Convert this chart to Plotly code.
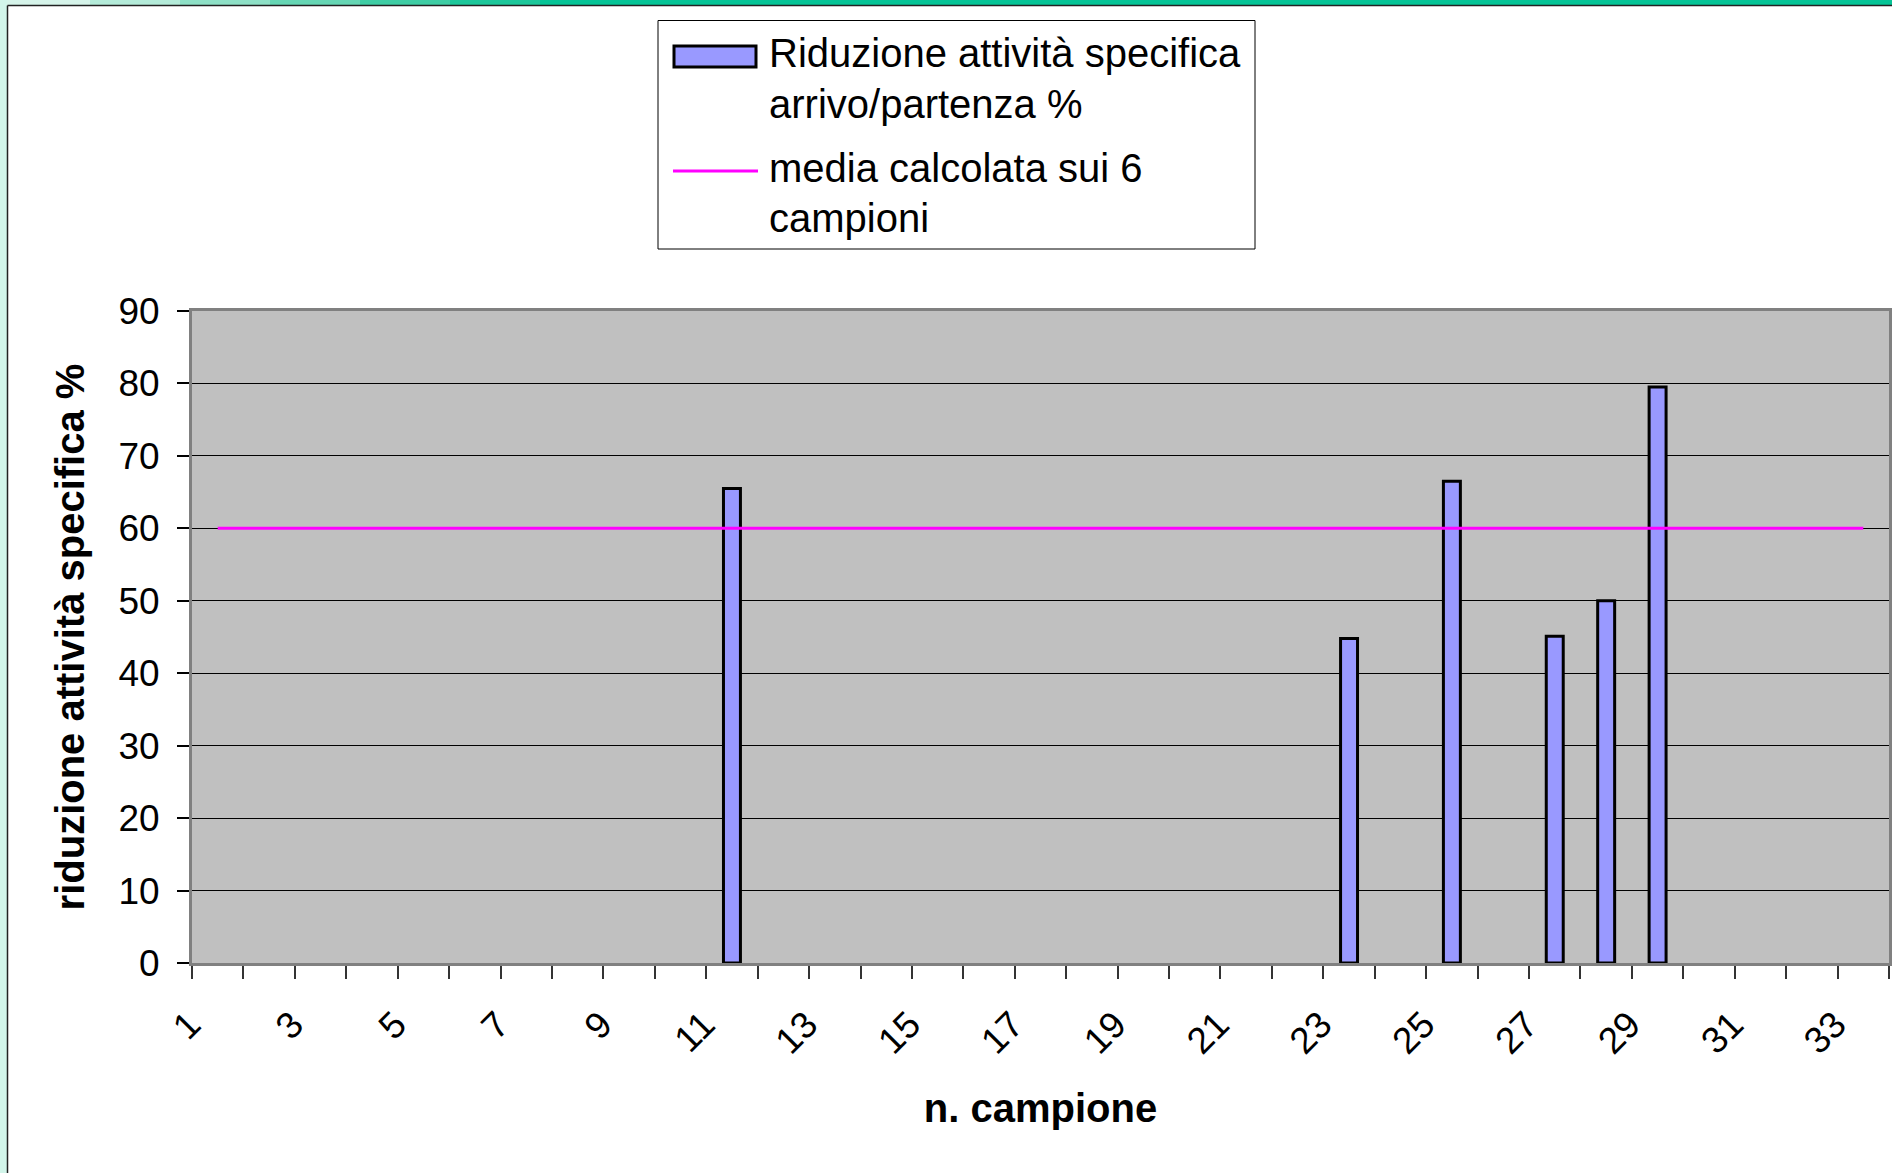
import plotly.graph_objects as go

# campioni con riduzione misurata
campioni = [11, 23, 25, 27, 28, 29]
riduzione = [65.5, 44.8, 66.5, 45.1, 50.0, 79.5]

# media calcolata sui 6 campioni (linea dal campione 1 al 33)
media_x = [1, 33]
media_y = [60, 60]

x_ticks = [1, 3, 5, 7, 9, 11, 13, 15, 17, 19, 21, 23, 25, 27, 29, 31, 33]
y_ticks = [0, 10, 20, 30, 40, 50, 60, 70, 80, 90]

W, H = 1892, 1173
L, R, T, B = 192, 3, 311, 210
FONT = "Liberation Sans, Arial, sans-serif"


def px(x):
    return (x - L) / (W - L - R)


def py(y):
    return (H - B - y) / (H - T - B)


fig = go.Figure()

fig.add_trace(go.Bar(
    x=campioni,
    y=riduzione,
    width=0.33,
    marker=dict(color="#9999FF", line=dict(color="black", width=3)),
    name="Riduzione attività specifica arrivo/partenza %",
    showlegend=False,
))

fig.add_trace(go.Scatter(
    x=media_x,
    y=media_y,
    mode="lines",
    line=dict(color="#FF00FF", width=3),
    name="media calcolata sui 6 campioni",
    showlegend=False,
))

shapes = []
annotations = []

# cornice della finestra (striscia verde in alto, striscia a sinistra)
grad = ["#D6F4EA", "#B4EBD9", "#8EE0C6", "#66D6B4", "#3ECDA4", "#1CC79A", "#05C496"]
seg = 90
for i, c in enumerate(grad):
    x1 = W if i == len(grad) - 1 else (i + 1) * seg
    shapes.append(dict(type="rect", xref="paper", yref="paper",
                       x0=px(i * seg), x1=px(x1), y0=py(5), y1=py(0),
                       fillcolor=c, line=dict(width=0), layer="above"))
shapes.append(dict(type="rect", xref="paper", yref="paper",
                   x0=px(0), x1=px(7), y0=py(H), y1=py(0),
                   fillcolor="#D2F5EA", line=dict(width=0), layer="above"))
shapes.append(dict(type="line", xref="paper", yref="paper",
                   x0=px(7.5), x1=px(7.5), y0=py(H), y1=py(5.5),
                   line=dict(color="#222222", width=1.5), layer="above"))
shapes.append(dict(type="line", xref="paper", yref="paper",
                   x0=px(7.5), x1=px(W), y0=py(5.5), y1=py(5.5),
                   line=dict(color="#222222", width=1.5), layer="above"))

# legenda
shapes.append(dict(type="rect", xref="paper", yref="paper",
                   x0=px(658), x1=px(1255), y0=py(249), y1=py(20.5),
                   fillcolor="white", line=dict(color="black", width=1)))
shapes.append(dict(type="rect", xref="paper", yref="paper",
                   x0=px(674), x1=px(756), y0=py(67), y1=py(46),
                   fillcolor="#9999FF", line=dict(color="black", width=3)))
shapes.append(dict(type="line", xref="paper", yref="paper",
                   x0=px(673), x1=px(758), y0=py(171), y1=py(171),
                   line=dict(color="#FF00FF", width=3)))

legend_lines = [
    ("Riduzione attività specifica", 53),
    ("arrivo/partenza %", 104),
    ("media calcolata sui 6", 168),
    ("campioni", 218),
]
for text, yc in legend_lines:
    annotations.append(dict(text=text, xref="paper", yref="paper",
                            x=px(767), y=py(yc), xanchor="left", yanchor="middle",
                            showarrow=False, font=dict(family=FONT, size=40, color="black")))

fig.update_layout(
    width=W,
    height=H,
    margin=dict(l=L, r=R, t=T, b=B, autoexpand=False),
    paper_bgcolor="white",
    plot_bgcolor="#C0C0C0",
    showlegend=False,
    shapes=shapes,
    annotations=annotations,
    font=dict(family=FONT, color="black"),
)

fig.update_xaxes(
    range=[0.5, 33.5],
    tickmode="array",
    tickvals=x_ticks,
    ticktext=[str(v) for v in x_ticks],
    tickangle=-45,
    ticks="",
    ticklabelstandoff=22,
    ticklabelshift=-28,
    tickfont=dict(family=FONT, size=37, color="black"),
    minor=dict(tick0=0.5, dtick=1, ticks="outside", ticklen=13,
               tickcolor="#333333", tickwidth=1.5, showgrid=False),
    showgrid=False,
    zeroline=False,
    showline=True,
    mirror=True,
    linecolor="#808080",
    linewidth=3,
    title=dict(text="<b>n. campione</b>", font=dict(family=FONT, size=40, color="black"),
               standoff=34),
)

fig.update_yaxes(
    range=[0, 90],
    tickmode="array",
    tickvals=y_ticks,
    ticks="outside",
    ticklen=12,
    tickcolor="black",
    tickwidth=1.5,
    ticklabelstandoff=10,
    tickfont=dict(family=FONT, size=37, color="black"),
    showgrid=True,
    gridcolor="black",
    gridwidth=1,
    zeroline=False,
    showline=True,
    mirror=True,
    linecolor="#808080",
    linewidth=3,
    title=dict(text="<b>riduzione attività specifica %</b>",
               font=dict(family=FONT, size=40, color="black"), standoff=22),
)

# la pagina parte dal bordo della finestra, senza margine del body
fig.write_html("out.html", config={"displayModeBar": False},
               post_script="document.body.style.margin='0';")
